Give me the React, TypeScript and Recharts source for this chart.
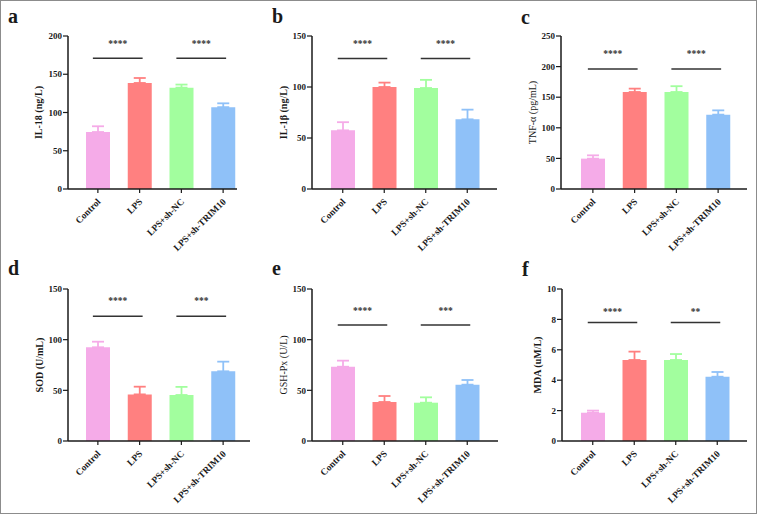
import { Bar, BarChart, Cell, ErrorBar, Label, ReferenceLine, XAxis, YAxis } from 'recharts';

const groups = ['Control', 'LPS', 'LPS+sh-NC', 'LPS+sh-TRIM10'];
const groupColors = ['#f5abe8', '#ff8080', '#a2fe9e', '#8fc1f8'];

const il18Mean = [74.5, 138.6, 132.5, 107];
const il18Err = [7.5, 6.5, 4, 5];
const il1bMean = [57.5, 100, 99, 68.3];
const il1bErr = [8, 4.3, 8, 9.5];
const tnfMean = [49.6, 158.5, 158.5, 121.5];
const tnfErr = [5.4, 5.5, 9.5, 7];
const sodMean = [92.5, 46, 45.4, 68.8];
const sodErr = [5.5, 7.6, 8, 9.5];
const gshMean = [73.3, 38.5, 37.8, 55.6];
const gshErr = [6, 5.9, 5.3, 4.6];
const mdaMean = [1.86, 5.33, 5.33, 4.23];
const mdaErr = [0.14, 0.55, 0.39, 0.31];

const ticks200 = [0, 50, 100, 150, 200];
const ticks150 = [0, 50, 100, 150];
const ticks250 = [0, 50, 100, 150, 200, 250];
const ticks10 = [0, 2, 4, 6, 8, 10];

// significance brackets: Control vs LPS, LPS+sh-NC vs LPS+sh-TRIM10
const il18Sig = 171;
const il1bSig = 128;
const tnfSig = 196;
const sodSig = 123;
const gshSig = 114.5;
const mdaSig = 7.8;
const il18Marks = ['****', '****'];
const il1bMarks = ['****', '****'];
const tnfMarks = ['****', '****'];
const sodMarks = ['****', '***'];
const gshMarks = ['****', '***'];
const mdaMarks = ['****', '**'];

const FONT = '"Liberation Serif", "Times New Roman", serif';
const INK = '#1a1a1a';
const XH = 60;

const colX = [0, 250, 500];
const colW = [250, 250, 257];
const rowY = [0, 253];
const rowH = [253, 261];
const plotTop = [36, 289];
const plotBottom = [189, 441];

const panels = [
  { letter: 'a', title: 'IL-18 (ng/L)', mean: il18Mean, err: il18Err, ticks: ticks200, sig: il18Sig, marks: il18Marks, col: 0, row: 0, axisX: 68, plotRight: 237, padL: 9, padR: -7, labelDx: -30, bold: true, starGap: 11, lx: 8, ly: 23 },
  { letter: 'b', title: 'IL-1β (ng/L)', mean: il1bMean, err: il1bErr, ticks: ticks150, sig: il1bSig, marks: il1bMarks, col: 1, row: 0, axisX: 312, plotRight: 497, padL: 10, padR: 9, labelDx: -29, bold: true, starGap: 11, lx: 272, ly: 23 },
  { letter: 'c', title: 'TNF-α (pg/mL)', mean: tnfMean, err: tnfErr, ticks: ticks250, sig: tnfSig, marks: tnfMarks, col: 2, row: 0, axisX: 561, plotRight: 747, padL: 11, padR: 8, labelDx: -29, bold: false, starGap: 12, lx: 521, ly: 24 },
  { letter: 'd', title: 'SOD (U/mL)', mean: sodMean, err: sodErr, ticks: ticks150, sig: sodSig, marks: sodMarks, col: 0, row: 1, axisX: 68, plotRight: 250, padL: 9, padR: 6, labelDx: -29, bold: true, starGap: 12, lx: 8, ly: 275 },
  { letter: 'e', title: 'GSH-Px (U/L)', mean: gshMean, err: gshErr, ticks: ticks150, sig: gshSig, marks: gshMarks, col: 1, row: 1, axisX: 312, plotRight: 498, padL: 10, padR: 10, labelDx: -29, bold: false, starGap: 11, lx: 272, ly: 275 },
  { letter: 'f', title: 'MDA (uM/L)', mean: mdaMean, err: mdaErr, ticks: ticks10, sig: mdaSig, marks: mdaMarks, col: 2, row: 1, axisX: 562, plotRight: 747, padL: 10, padR: 9, labelDx: -25, bold: true, starGap: 7, lx: 522, ly: 276 },
];

const GroupTick = (props: any) => {
  const { x, y, payload } = props;
  const tx = x + 1;
  const ty = y + 5;
  return (
    <text
      x={tx}
      y={ty}
      dy="0.35em"
      textAnchor="end"
      transform={`rotate(-45 ${tx} ${ty})`}
      fontFamily={FONT}
      fontWeight="bold"
      fontSize={9.4}
      fill={INK}
    >
      {payload.value}
    </text>
  );
};

const bracket = (mark: string, gap: number) => (props: any) => {
  const { x1, y1, x2 } = props;
  return (
    <g>
      <line x1={x1 - 5} y1={y1} x2={x2 + 3} y2={y1} stroke="#333" strokeWidth={1.5} />
      <text
        x={(x1 + x2) / 2 - 1}
        y={y1 - gap}
        textAnchor="middle"
        fontFamily={FONT}
        fontWeight="bold"
        fontSize={9.5}
        fill="#333"
      >
        {mark}
      </text>
    </g>
  );
};

function Panel({ p }: { p: (typeof panels)[number] }) {
  const cx = colX[p.col];
  const cy = rowY[p.row];
  const w = colW[p.col];
  const h = rowH[p.row];
  const top = plotTop[p.row] - cy;
  const bottomRel = plotBottom[p.row] - cy;
  const yw = p.axisX - cx;
  const margin = { top, right: cx + w - p.plotRight, bottom: h - bottomRel - XH, left: 0 };

  const rows = groups.map((name, i) => {
    const row: any = { name, value: p.mean[i] };
    row[`e${i}`] = [0, p.err[i]];
    return row;
  });
  const max = p.ticks[p.ticks.length - 1];

  return (
    <div style={{ position: 'absolute', left: cx, top: cy }}>
      <BarChart width={w} height={h} data={rows} margin={margin}>
        <XAxis
          dataKey="name"
          height={XH}
          interval={0}
          padding={{ left: p.padL, right: p.padR }}
          tick={<GroupTick />}
          tickSize={4}
          tickMargin={2}
          axisLine={{ stroke: INK, strokeWidth: 1.5 }}
          tickLine={{ stroke: INK, strokeWidth: 1.2 }}
        />
        <YAxis
          type="number"
          width={yw}
          domain={[0, max]}
          ticks={p.ticks}
          interval={0}
          tickSize={5}
          tickMargin={1}
          axisLine={{ stroke: INK, strokeWidth: 1.5 }}
          tickLine={{ stroke: INK, strokeWidth: 1.2 }}
          tick={{ fontSize: 9, fontWeight: 'bold', fill: INK, fontFamily: FONT }}
          allowDataOverflow
        >
          <Label
            content={() => {
              const lx = yw + p.labelDx;
              const ly = (top + bottomRel) / 2;
              return (
                <text
                  x={lx}
                  y={ly}
                  transform={`rotate(-90 ${lx} ${ly})`}
                  textAnchor="middle"
                  dominantBaseline="central"
                  fontFamily={FONT}
                  fontWeight={p.bold ? 'bold' : 'normal'}
                  fontSize={10}
                  fill={INK}
                >
                  {p.title}
                </text>
              );
            }}
          />
        </YAxis>
        <Bar dataKey="value" barSize={24} isAnimationActive={false}>
          {groups.map((g, i) => (
            <Cell key={g} fill={groupColors[i]} />
          ))}
          {groups.map((g, i) => (
            <ErrorBar
              key={g}
              dataKey={`e${i}`}
              direction="y"
              width={6}
              stroke={groupColors[i]}
              strokeWidth={1.8}
              isAnimationActive={false}
            />
          ))}
        </Bar>
        <ReferenceLine
          segment={[{ x: groups[0], y: p.sig }, { x: groups[1], y: p.sig }]}
          shape={bracket(p.marks[0], p.starGap)}
        />
        <ReferenceLine
          segment={[{ x: groups[2], y: p.sig }, { x: groups[3], y: p.sig }]}
          shape={bracket(p.marks[1], p.starGap)}
        />
      </BarChart>
    </div>
  );
}

export default function App() {
  return (
    <div style={{ position: 'absolute', left: 0, top: 0, width: 757, height: 514, background: '#fff', fontFamily: FONT }}>
      <div
        style={{
          position: 'absolute',
          left: 0,
          top: 0,
          width: 757,
          height: 514,
          boxSizing: 'border-box',
          border: '1.5px solid #8c8c8c',
        }}
      />
      {panels.map((p) => (
        <Panel key={p.letter} p={p} />
      ))}
      <svg width={757} height={514} style={{ position: 'absolute', left: 0, top: 0, pointerEvents: 'none' }}>
        {panels.map((p) => (
          <text key={p.letter} x={p.lx} y={p.ly} fontFamily={FONT} fontWeight="bold" fontSize={20} fill={INK}>
            {p.letter}
          </text>
        ))}
      </svg>
    </div>
  );
}
